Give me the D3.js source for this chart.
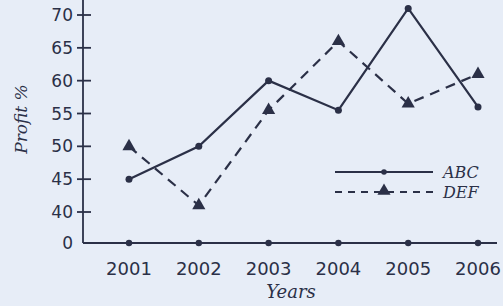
<!DOCTYPE html>
<html>
<head>
<meta charset="utf-8">
<script src="https://cdn.jsdelivr.net/npm/d3@7"></script>
<style>
  html, body { margin: 0; padding: 0; background: #e7edf7; }
  svg { display: block; }
</style>
</head>
<body>
<svg id="chart" width="503" height="306"></svg>
<script>
const years = ["2001", "2002", "2003", "2004", "2005", "2006"];
const abc = [45, 50, 60, 55.5, 71, 56];
const def = [50, 41, 55.5, 66, 56.5, 61];
const yTicks = [0, 40, 45, 50, 55, 60, 65, 70];

const ink = "#2b3047";
const svg = d3.select("#chart");

// x: point scale, y: broken axis (0 sits one step below 40)
const x = d3.scalePoint().domain(years).range([129, 478]);
const y = d3.scaleLinear().domain([0, 40, 70]).range([243, 212, 15]);

// axes lines
svg.append("line")
  .attr("x1", 83).attr("x2", 83).attr("y1", 0).attr("y2", y(0))
  .attr("stroke", ink).attr("stroke-width", 1.8);
svg.append("line")
  .attr("x1", 83).attr("x2", 497).attr("y1", y(0)).attr("y2", y(0))
  .attr("stroke", ink).attr("stroke-width", 1.8);

// y ticks crossing the axis
const yt = svg.append("g").selectAll("g").data(yTicks).join("g")
  .attr("transform", d => `translate(0,${y(d)})`);
yt.filter(d => d !== 0).append("line")
  .attr("x1", 77).attr("x2", 91)
  .attr("stroke", ink).attr("stroke-width", 1.8);
yt.append("text")
  .attr("x", 73).attr("dy", "0.36em")
  .attr("text-anchor", "end")
  .style("font-family", "'DejaVu Sans', sans-serif")
  .style("font-size", "17px")
  .attr("fill", ink)
  .text(d => d);

// dots on x axis + year labels
svg.append("g").selectAll("circle").data(years).join("circle")
  .attr("cx", d => x(d)).attr("cy", y(0)).attr("r", 3.2)
  .attr("fill", ink);
svg.append("g").selectAll("text").data(years).join("text")
  .attr("x", d => x(d)).attr("y", 275)
  .attr("text-anchor", "middle")
  .style("font-family", "'DejaVu Sans', sans-serif")
  .style("font-size", "18px")
  .attr("fill", ink)
  .text(d => d);

// axis titles
svg.append("text")
  .attr("x", 291).attr("y", 298)
  .attr("text-anchor", "middle")
  .style("font-family", "'DejaVu Serif', serif")
  .style("font-style", "italic")
  .style("font-size", "18px")
  .attr("fill", ink)
  .text("Years");
svg.append("text")
  .attr("transform", "translate(27,119) rotate(-90)")
  .attr("text-anchor", "middle")
  .style("font-family", "'DejaVu Serif', serif")
  .style("font-style", "italic")
  .style("font-size", "17px")
  .attr("fill", ink)
  .text("Profit %");

const line = d3.line().x((d, i) => x(years[i])).y(d => y(d));
const tri = d3.symbol().type(d3.symbolTriangle).size(75);

// DEF dashed
svg.append("path").datum(def)
  .attr("d", line)
  .attr("fill", "none").attr("stroke", ink)
  .attr("stroke-width", 2.2).attr("stroke-dasharray", "10,7");
svg.append("g").selectAll("path").data(def).join("path")
  .attr("d", tri)
  .attr("transform", (d, i) => `translate(${x(years[i])},${y(d)})`)
  .attr("fill", ink);

// ABC solid
svg.append("path").datum(abc)
  .attr("d", line)
  .attr("fill", "none").attr("stroke", ink).attr("stroke-width", 2.2);
svg.append("g").selectAll("circle").data(abc).join("circle")
  .attr("cx", (d, i) => x(years[i])).attr("cy", d => y(d)).attr("r", 3.5)
  .attr("fill", ink);

// legend
const lg = svg.append("g");
lg.append("line").attr("x1", 335).attr("x2", 433).attr("y1", 172).attr("y2", 172)
  .attr("stroke", ink).attr("stroke-width", 1.8);
lg.append("circle").attr("cx", 384).attr("cy", 172).attr("r", 2.8).attr("fill", ink);
lg.append("line").attr("x1", 335).attr("x2", 433).attr("y1", 192).attr("y2", 192)
  .attr("stroke", ink).attr("stroke-width", 1.8).attr("stroke-dasharray", "7,6");
lg.append("path").attr("d", tri).attr("transform", "translate(384,191)").attr("fill", ink);
lg.selectAll("text").data(["ABC", "DEF"]).join("text")
  .attr("x", 443).attr("y", (d, i) => 172 + i * 20).attr("dy", "0.36em")
  .style("font-family", "'DejaVu Serif', serif")
  .style("font-style", "italic")
  .style("font-size", "16px")
  .attr("fill", ink)
  .text(d => d);
</script>
</body>
</html>
